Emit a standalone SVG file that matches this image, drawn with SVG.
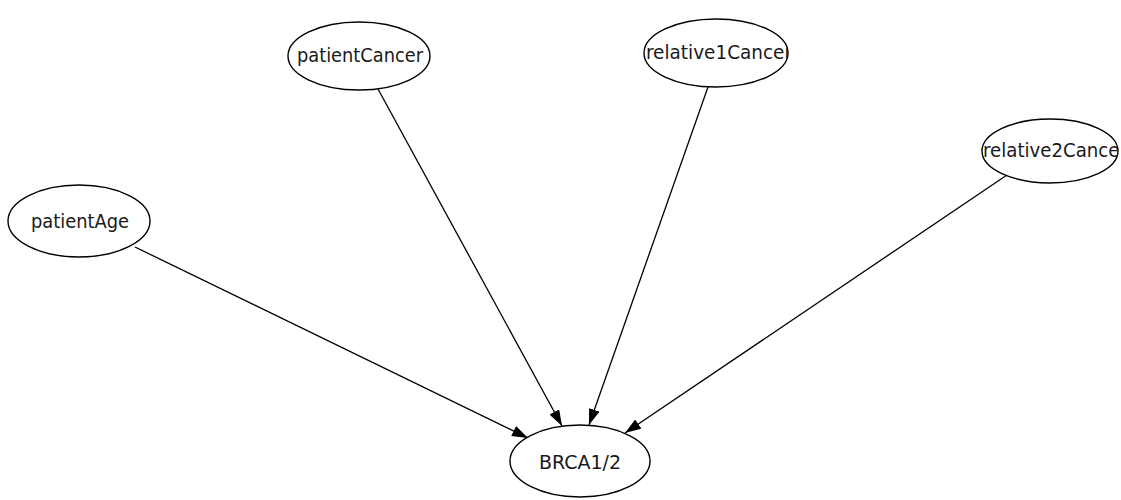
<svg xmlns="http://www.w3.org/2000/svg" width="1121" height="500" viewBox="0 0 1121 500">
  <style>
    .node ellipse { fill: #ffffff; stroke: #000000; stroke-width: 1.4; }
    .node text { font-family: "DejaVu Sans Condensed", "DejaVu Sans", sans-serif; font-size: 19px; fill: #1a1a1a; text-anchor: middle; }
    .edge { stroke: #000000; stroke-width: 1.3; fill: none; marker-end: url(#arrow); }
  </style>
  <defs>
    <marker id="arrow" viewBox="0 0 16 11" refX="16" refY="5.5" markerWidth="16" markerHeight="11" markerUnits="userSpaceOnUse" orient="auto">
      <path d="M0,0 L16,5.5 L0,11 Z" fill="#000000"/>
    </marker>
    <clipPath id="clip-r1"><ellipse cx="716" cy="53" rx="72" ry="34"/></clipPath>
    <clipPath id="clip-r2"><ellipse cx="1050" cy="151" rx="68" ry="32"/></clipPath>
  </defs>
  <rect width="1121" height="500" fill="#ffffff"/>

  <g id="connectors">
    <line class="edge" x1="135" y1="247" x2="528" y2="438"/>
    <line class="edge" x1="378" y1="89" x2="562" y2="426"/>
    <line class="edge" x1="708" y1="87" x2="589" y2="425"/>
    <line class="edge" x1="1007" y1="175" x2="625" y2="433"/>
  </g>

  <g id="patientAge" class="node">
    <ellipse cx="79" cy="221" rx="71" ry="36"/>
    <text x="80" y="228" textLength="98" lengthAdjust="spacingAndGlyphs">patientAge</text>
  </g>
  <g id="patientCancer" class="node">
    <ellipse cx="359" cy="56" rx="71" ry="34"/>
    <text x="360" y="62" textLength="126" lengthAdjust="spacingAndGlyphs">patientCancer</text>
  </g>
  <g id="relative1Cancer" class="node">
    <ellipse cx="716" cy="53" rx="72" ry="34"/>
    <text x="719" y="59" textLength="146" lengthAdjust="spacingAndGlyphs" clip-path="url(#clip-r1)">relative1Cancer</text>
  </g>
  <g id="relative2Cancer" class="node">
    <ellipse cx="1050" cy="151" rx="68" ry="32"/>
    <text x="1055" y="157" textLength="144" lengthAdjust="spacingAndGlyphs" clip-path="url(#clip-r2)">relative2Cancer</text>
  </g>
  <g id="BRCA12" class="node">
    <ellipse cx="580" cy="461" rx="70" ry="36"/>
    <text x="580" y="469" textLength="82" lengthAdjust="spacingAndGlyphs">BRCA1/2</text>
  </g>
</svg>
